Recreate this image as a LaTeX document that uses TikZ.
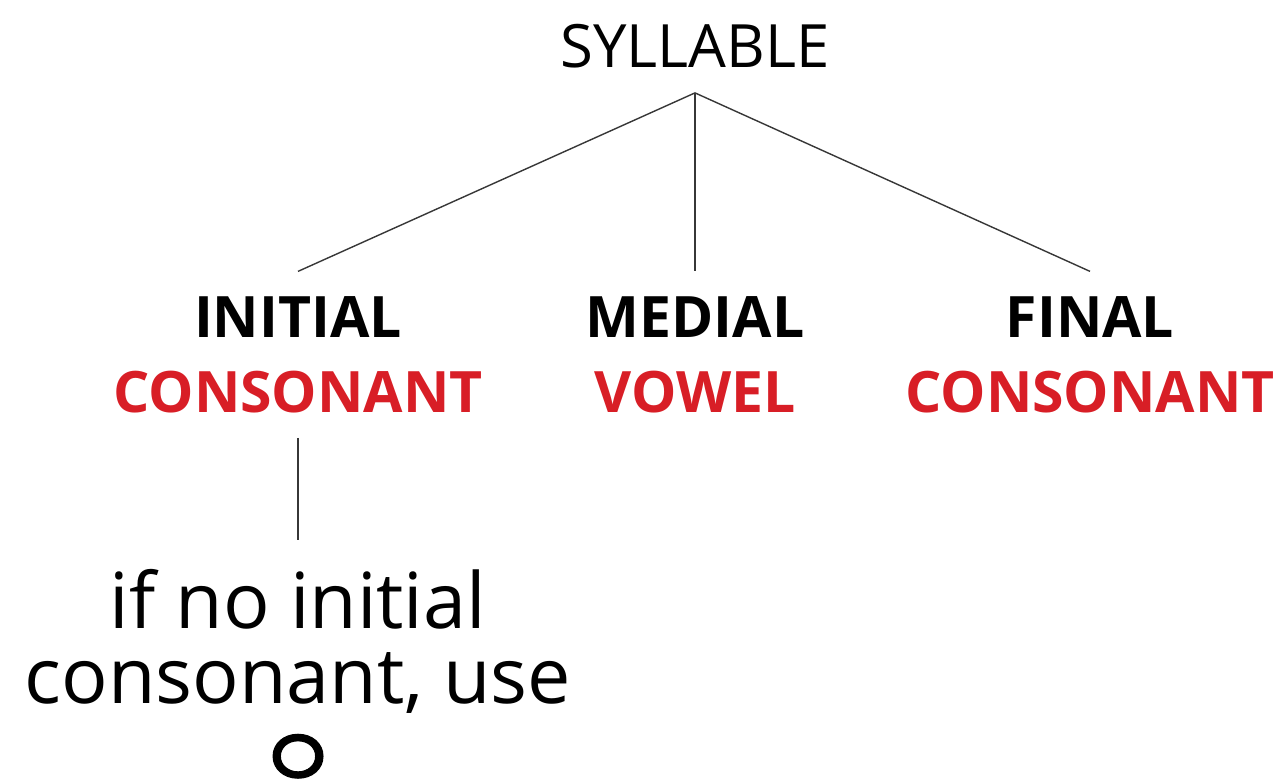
\documentclass[tikz,border=0pt]{standalone}
\usepackage{fontspec}
\setmainfont{Open Sans}
\newfontfamily\krfont{Noto Sans CJK KR}[FakeBold=1.5]
\usetikzlibrary{positioning}
\definecolor{syllred}{RGB}{216,30,38}
\definecolor{linegray}{RGB}{55,55,55}
\newcommand{\redword}[1]{\textcolor{syllred}{#1}}
\tikzstyle{toplabel} = [inner xsep=6pt, inner ysep=14pt, font=\fontsize{34}{40}\selectfont]
\tikzstyle{partlabel} = [inner xsep=6pt, inner ysep=14pt, align=center, font=\bfseries\fontsize{32.5}{42.7}\selectfont]
\tikzstyle{remark} = [inner xsep=6pt, inner ysep=16.5pt, align=center, font=\fontsize{44}{42.7}\selectfont]
\tikzstyle{branch} = [draw=linegray, line width=0.8pt]

\begin{document}
\begin{tikzpicture}

    \useasboundingbox (0,0) rectangle (25.7,-15.66);

    \node (syllable) [toplabel] at (13.9,-0.92) {SYLLABLE};
    \node (medial) [partlabel, below=3.57cm of syllable] {MEDIAL\\\redword{VOWEL}};
    \node (initial) [partlabel, below=3.57cm of syllable, xshift=-7.94cm] {INITIAL\\\redword{CONSONANT}};
    \node (final) [partlabel, below=3.57cm of syllable, xshift=7.9cm] {FINAL\\\redword{CONSONANT}};
    \node (rule) [remark, below=2.05cm of initial] {if no initial\\consonant, use\\{\krfont\fontsize{50}{42.7}\selectfont\smash{\raisebox{-6pt}{ㅇ}}}};

    \draw [branch] (syllable.south) -- (initial.north);
    \draw [branch] (syllable.south) -- (medial.north);
    \draw [branch] (syllable.south) -- (final.north);
    \draw [branch] (initial.south) -- (rule.north);
\end{tikzpicture}
\end{document}
